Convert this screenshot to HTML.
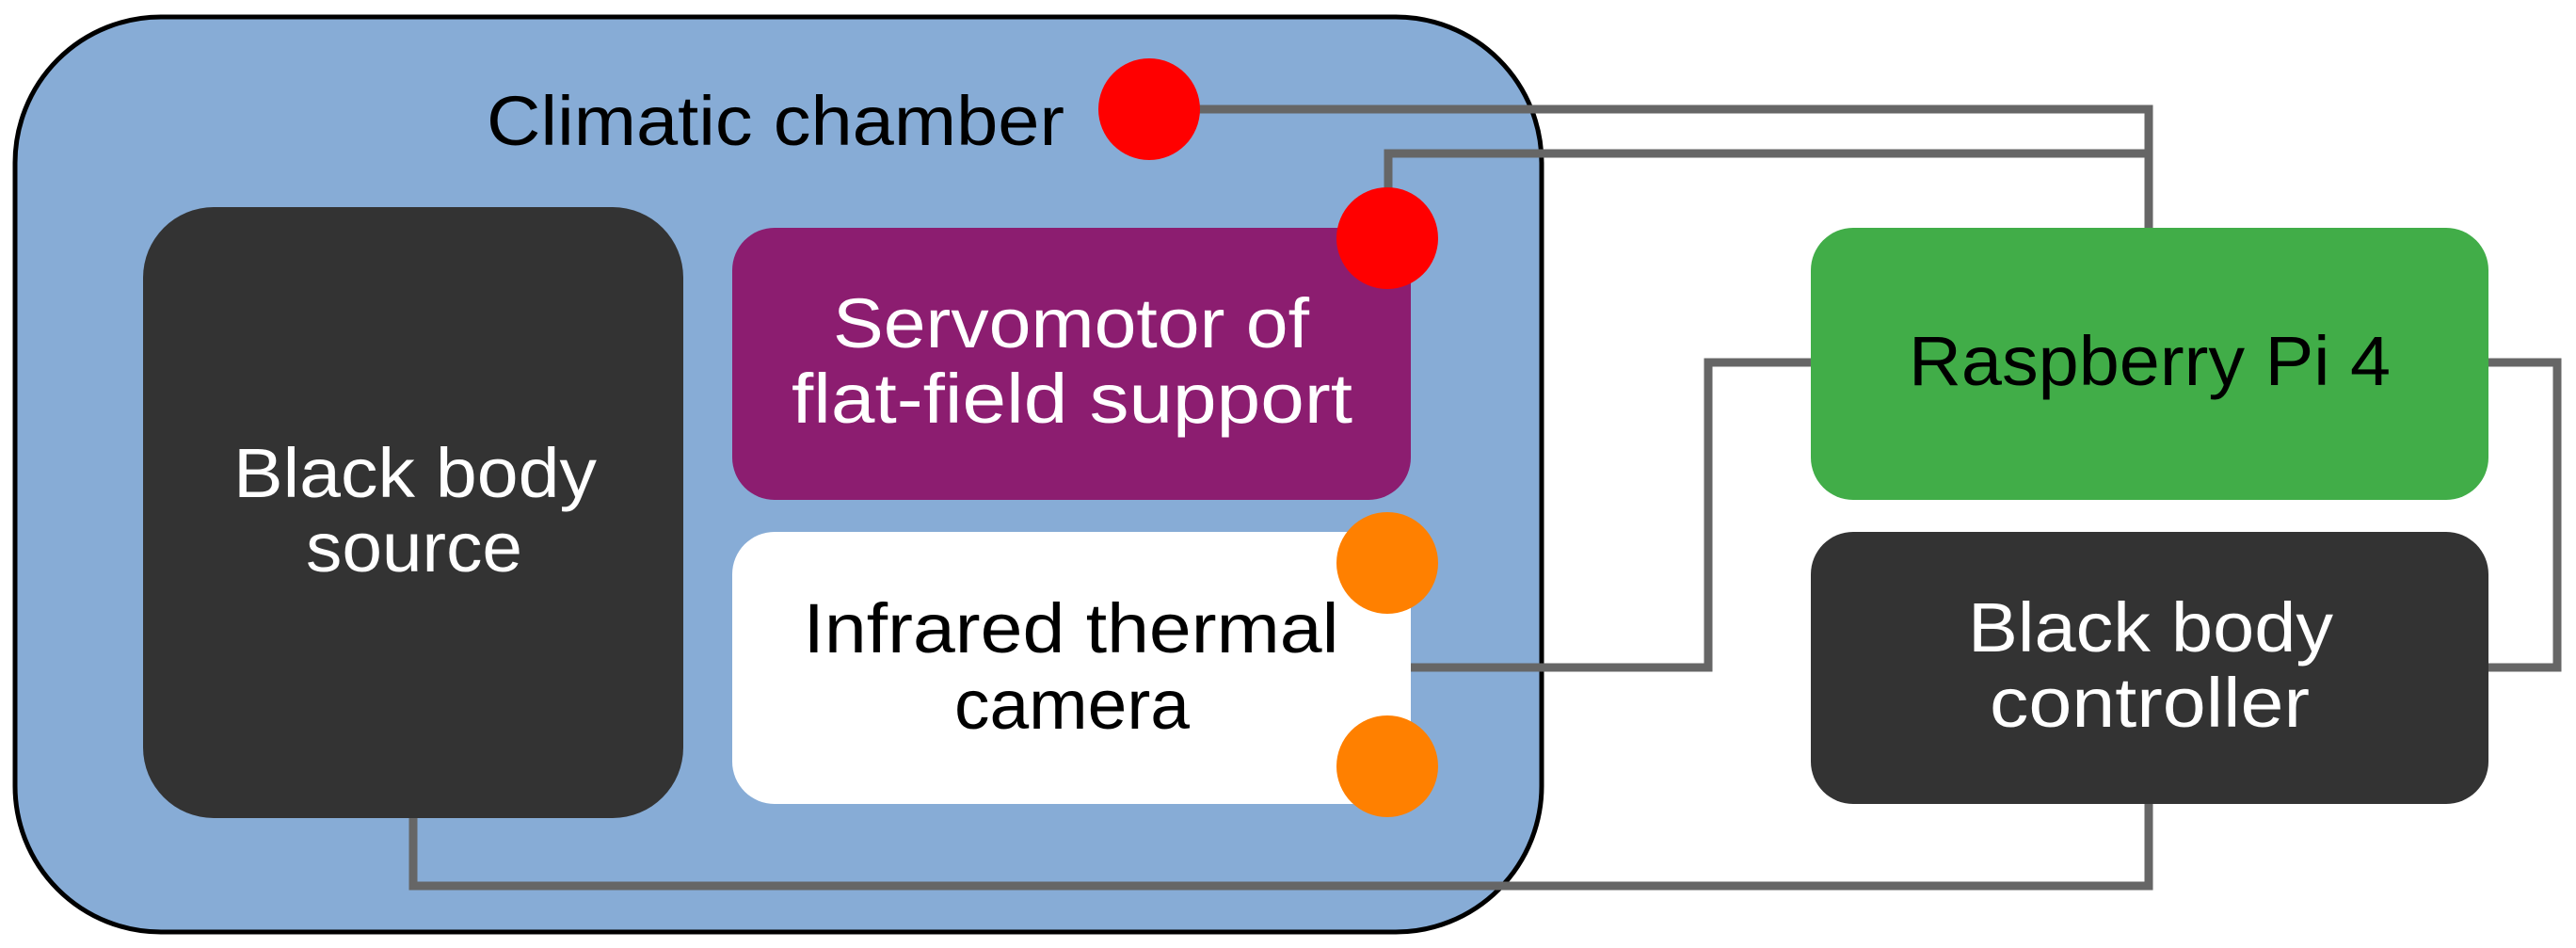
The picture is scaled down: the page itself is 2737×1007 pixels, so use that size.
<!DOCTYPE html>
<html><head><meta charset="utf-8"><style>html,body{margin:0;padding:0;background:#fff}svg{display:block}</style></head>
<body>
<svg width="2737" height="1007" viewBox="0 0 2737 1007" xmlns="http://www.w3.org/2000/svg" font-family="Liberation Sans, sans-serif" font-size="74">
<rect x="16" y="18" width="1622" height="972" rx="155" fill="#87acd6" stroke="#000" stroke-width="5"/>
<g fill="none" stroke="#666" stroke-width="9" stroke-linejoin="miter">
<polyline points="1260,116 2283,116 2283,244"/>
<polyline points="1475,205 1475,163 2283,163"/>
<polyline points="1499,709 1815,709 1815,385 1924,385"/>
<polyline points="2644,385 2717,385 2717,709 2644,709"/>
<polyline points="439,860 439,941 2283,941 2283,854"/>
</g>
<rect x="152" y="220" width="574" height="649" rx="75" fill="#333"/>
<rect x="778" y="242" width="721" height="289" rx="45" fill="#8c1d70"/>
<rect x="778" y="565" width="721" height="289" rx="45" fill="#fff"/>
<rect x="1924" y="242" width="720" height="289" rx="45" fill="#41ad48"/>
<rect x="1924" y="565" width="720" height="289" rx="45" fill="#333"/>
<circle cx="1221" cy="116" r="54" fill="#f00"/>
<circle cx="1474" cy="253" r="54" fill="#f00"/>
<circle cx="1474" cy="598" r="54" fill="#ff8000"/>
<circle cx="1474" cy="814" r="54" fill="#ff8000"/>
<g text-anchor="middle" lengthAdjust="spacingAndGlyphs">
<text x="824" y="154" fill="#000" textLength="614" lengthAdjust="spacingAndGlyphs">Climatic chamber</text>
<text x="1138" y="369" fill="#fff" textLength="506" lengthAdjust="spacingAndGlyphs">Servomotor of</text>
<text x="1139" y="449" fill="#fff" textLength="596" lengthAdjust="spacingAndGlyphs">flat-field support</text>
<text x="441" y="528" fill="#fff" textLength="386" lengthAdjust="spacingAndGlyphs">Black body</text>
<text x="440" y="607" fill="#fff" textLength="230" lengthAdjust="spacingAndGlyphs">source</text>
<text x="1138" y="693" fill="#000" textLength="569" lengthAdjust="spacingAndGlyphs">Infrared thermal</text>
<text x="1139" y="774" fill="#000" textLength="250" lengthAdjust="spacingAndGlyphs">camera</text>
<text x="2284" y="409" fill="#000" textLength="512" lengthAdjust="spacingAndGlyphs">Raspberry Pi 4</text>
<text x="2285" y="692" fill="#fff" textLength="388" lengthAdjust="spacingAndGlyphs">Black body</text>
<text x="2284" y="772" fill="#fff" textLength="340" lengthAdjust="spacingAndGlyphs">controller</text>
</g>
</svg>
</body></html>
